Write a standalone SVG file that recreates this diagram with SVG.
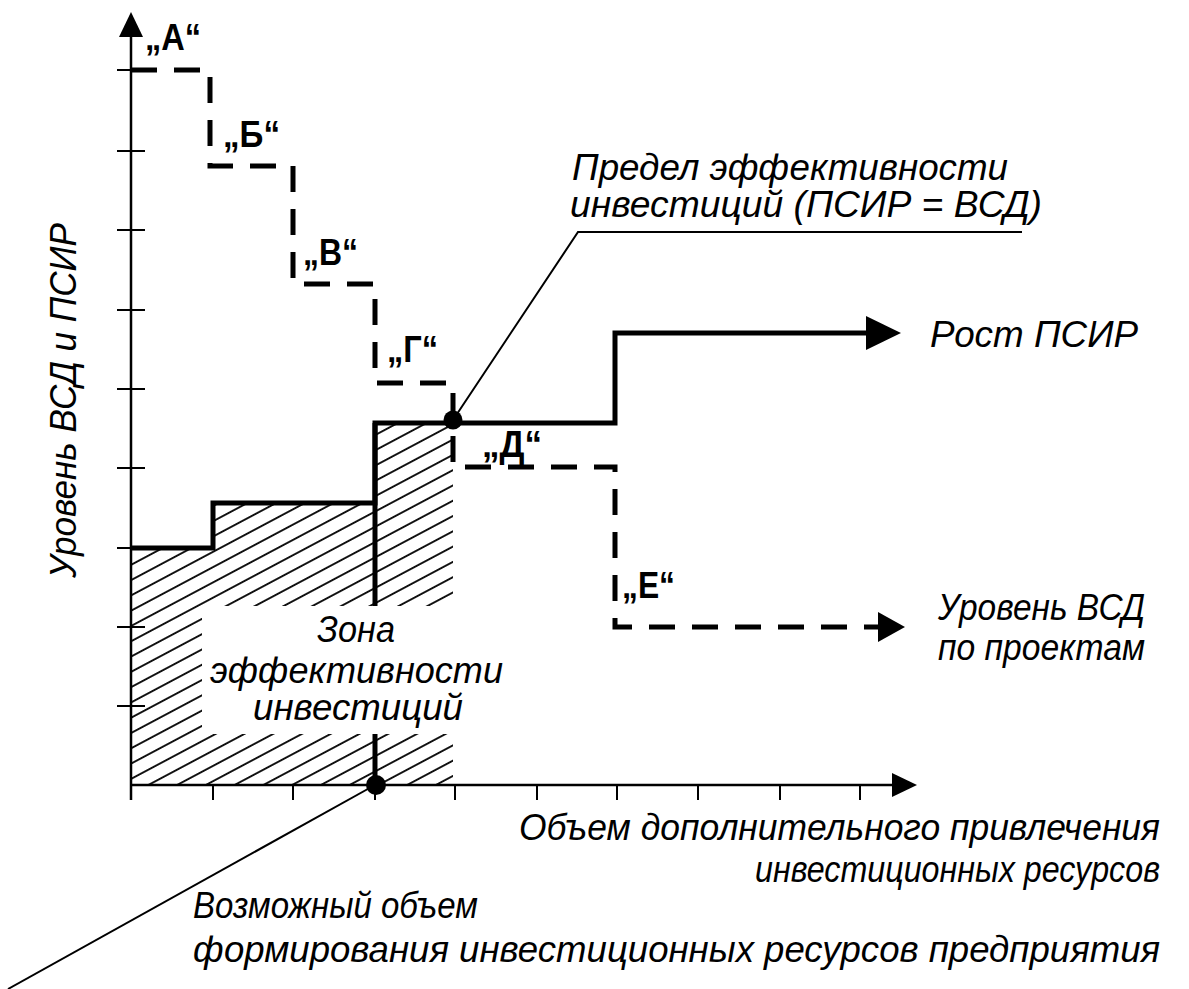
<svg xmlns="http://www.w3.org/2000/svg" width="1189" height="989" viewBox="0 0 1189 989">
<defs>
<style>
.axis{stroke:#000;stroke-width:2.5;fill:none}
.tick{stroke:#000;stroke-width:2;fill:none}
.psir{stroke:#000;stroke-width:5;fill:none;stroke-linejoin:miter}
.vsd{stroke:#000;stroke-width:5;fill:none;stroke-dasharray:26 17}
.lead{stroke:#000;stroke-width:2;fill:none}
.it{font-family:"Liberation Sans","Arial",sans-serif;font-style:italic;font-size:36px;fill:#000}
.lbl{font-family:"Liberation Sans","Arial",sans-serif;font-weight:bold;font-size:36px;fill:#000}
</style>
<pattern id="hatch" patternUnits="userSpaceOnUse" width="30" height="13.5" patternTransform="rotate(-28)">
<line x1="0" y1="6.75" x2="30" y2="6.75" stroke="#000" stroke-width="1.8"/>
</pattern>
</defs>
<rect width="1189" height="989" fill="#fff"/>

<g id="hatched-zone">
<path d="M131,548 H213 V503 H375 V423 H453 V785 H131 Z" fill="url(#hatch)"/>
<rect x="202" y="606" width="252" height="128" fill="#fff"/>
</g>

<g id="axes">
<line class="axis" x1="131" y1="800" x2="131" y2="34"/>
<polygon points="119,37 131,12 143,37" fill="#000"/>
<line class="axis" x1="131" y1="785" x2="894" y2="785"/>
<polygon points="892,773 917,785 892,797" fill="#000"/>
<g class="tick">
<line x1="117" y1="70" x2="145" y2="70"/>
<line x1="117" y1="151" x2="145" y2="151"/>
<line x1="117" y1="230" x2="145" y2="230"/>
<line x1="117" y1="310" x2="145" y2="310"/>
<line x1="117" y1="389" x2="145" y2="389"/>
<line x1="117" y1="468" x2="145" y2="468"/>
<line x1="117" y1="548" x2="145" y2="548"/>
<line x1="117" y1="627" x2="145" y2="627"/>
<line x1="117" y1="706" x2="145" y2="706"/>
<line x1="213" y1="785" x2="213" y2="800"/>
<line x1="293" y1="785" x2="293" y2="800"/>
<line x1="375" y1="785" x2="375" y2="800"/>
<line x1="455" y1="785" x2="455" y2="800"/>
<line x1="537" y1="785" x2="537" y2="800"/>
<line x1="617" y1="785" x2="617" y2="800"/>
<line x1="698" y1="785" x2="698" y2="800"/>
<line x1="780" y1="785" x2="780" y2="800"/>
<line x1="860" y1="785" x2="860" y2="800"/>
</g>
<text class="it" transform="translate(76,578) rotate(-90)" textLength="355" lengthAdjust="spacingAndGlyphs">Уровень ВСД и ПСИР</text>
<text class="it" x="519" y="840" textLength="641" lengthAdjust="spacingAndGlyphs">Объем дополнительного привлечения</text>
<text class="it" x="755" y="882" textLength="405" lengthAdjust="spacingAndGlyphs">инвестиционных ресурсов</text>
</g>

<g id="connectors">
<path id="psir-line" class="psir" d="M131,548 H213 V503 H375 V423 H615 V333 H868"/>
<polygon points="866,316 901,333 866,350" fill="#000"/>
<path id="vsd-line" class="vsd" d="M131,70 H210 V166 H293 V284 H375 V383 H453 V467 H615 V627 H880"/>
<polygon points="878,612 905,627 878,642" fill="#000"/>
<line class="psir" x1="375" y1="423" x2="375" y2="606"/>
<line class="psir" x1="375" y1="734" x2="375" y2="785"/>
<polyline class="lead" points="453,420 578,232 1022,232"/>
<line class="lead" x1="375" y1="785" x2="8" y2="989"/>
</g>

<g id="points">
<circle cx="453" cy="420" r="9.5" fill="#000"/>
<circle cx="376" cy="785" r="10" fill="#000"/>
</g>

<g id="step-labels">
<text class="lbl" x="145" y="50" textLength="56" lengthAdjust="spacingAndGlyphs">„А“</text>
<text class="lbl" x="223" y="147" textLength="57" lengthAdjust="spacingAndGlyphs">„Б“</text>
<text class="lbl" x="303" y="265" textLength="55" lengthAdjust="spacingAndGlyphs">„В“</text>
<text class="lbl" x="387" y="362" textLength="51" lengthAdjust="spacingAndGlyphs">„Г“</text>
<text class="lbl" x="482" y="457" textLength="60" lengthAdjust="spacingAndGlyphs">„Д“</text>
<text class="lbl" x="622" y="598" textLength="53" lengthAdjust="spacingAndGlyphs">„Е“</text>
</g>

<g id="limit-label">
<text class="it" x="572" y="180" textLength="436" lengthAdjust="spacingAndGlyphs">Предел эффективности</text>
<text class="it" x="570" y="217" textLength="472" lengthAdjust="spacingAndGlyphs">инвестиций (ПСИР = ВСД)</text>
</g>

<g id="psir-label">
<text class="it" x="930" y="347" textLength="208" lengthAdjust="spacingAndGlyphs">Рост ПСИР</text>
</g>

<g id="vsd-label">
<text class="it" x="938" y="620" textLength="207" lengthAdjust="spacingAndGlyphs">Уровень ВСД</text>
<text class="it" x="938" y="660" textLength="207" lengthAdjust="spacingAndGlyphs">по проектам</text>
</g>

<g id="zone-label">
<text class="it" x="317" y="642" textLength="78" lengthAdjust="spacingAndGlyphs">Зона</text>
<text class="it" x="210" y="683" textLength="293" lengthAdjust="spacingAndGlyphs">эффективности</text>
<text class="it" x="253" y="720" textLength="210" lengthAdjust="spacingAndGlyphs">инвестиций</text>
</g>

<g id="volume-label">
<text class="it" x="193" y="918" textLength="285" lengthAdjust="spacingAndGlyphs">Возможный объем</text>
<text class="it" x="193" y="962" textLength="967" lengthAdjust="spacingAndGlyphs">формирования инвестиционных ресурсов предприятия</text>
</g>
</svg>
